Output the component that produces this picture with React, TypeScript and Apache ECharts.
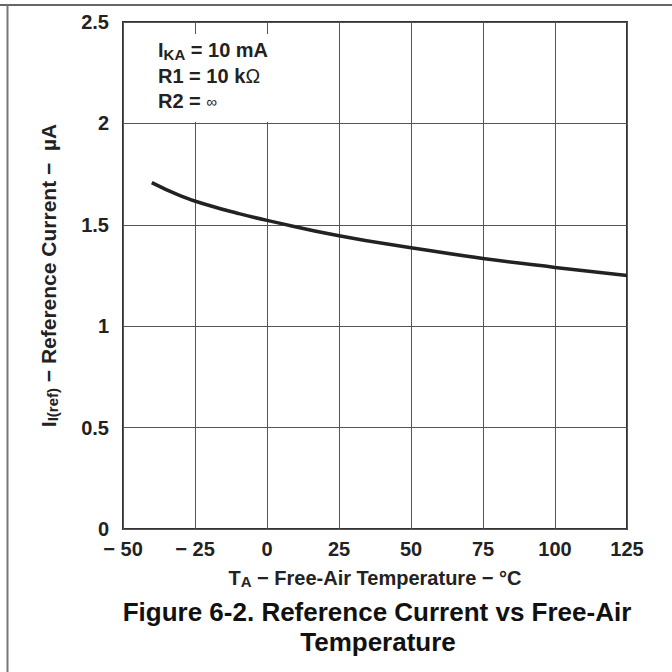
import React, { useEffect, useRef } from "react";
import * as echarts from "echarts";

const temperatures = [-40, -30, -20, -10, 0, 25, 50, 75, 100, 125];
const refCurrent = [1.708, 1.643, 1.595, 1.556, 1.522, 1.446, 1.387, 1.334, 1.29, 1.25];
const xTicks = [-50, -25, 0, 25, 50, 75, 100, 125];
const yTicks = [0, 0.5, 1, 1.5, 2, 2.5];
const annotations = ["I{sub|KA} = 10 mA", "R1 = 10 k{om|\u2126}", "R2 = {inf|\u221e}"];

const FONT = "'Liberation Sans', Arial, sans-serif";

export default function App() {
  const ref = useRef<HTMLDivElement>(null);
  useEffect(() => {
    if (!ref.current) return;
    const chart = echarts.init(ref.current, undefined, { renderer: "svg" });
    const L = 123, R = 627, T = 22, B = 529;
    const fmtX = (v: number) => (v < 0 ? "\u2212 " + Math.abs(v) : String(v));
    const subStyle = { fontSize: 15, fontWeight: "bold", fontFamily: FONT, color: "#222", verticalAlign: "bottom", lineHeight: 12 };
    chart.setOption({
      animation: false,
      backgroundColor: "#fff",
      textStyle: { fontFamily: FONT },
      grid: {
        left: L, right: 672 - R, top: T, bottom: 672 - B,
        show: true, borderColor: "#333", borderWidth: 2, backgroundColor: "transparent",
      },
      xAxis: {
        type: "value", min: xTicks[0], max: xTicks[xTicks.length - 1], interval: 25,
        axisLine: { show: false }, axisTick: { show: false },
        splitLine: { show: true, lineStyle: { color: "#555", width: 1 } },
        axisLabel: { formatter: fmtX, color: "#222", fontWeight: "bold", fontSize: 20, fontFamily: FONT, margin: 10 },
        name: "T{sub|A} \u2212 Free-Air Temperature \u2212 \u00b0C",
        nameLocation: "middle", nameGap: 38,
        nameTextStyle: {
          color: "#222", fontWeight: "bold", fontSize: 20, fontFamily: FONT, lineHeight: 22,
          rich: { sub: subStyle },
        },
      },
      yAxis: {
        type: "value", min: yTicks[0], max: yTicks[yTicks.length - 1], interval: 0.5,
        axisLine: { show: false }, axisTick: { show: false },
        splitLine: { show: true, lineStyle: { color: "#555", width: 1 } },
        axisLabel: { color: "#222", fontWeight: "bold", fontSize: 20, fontFamily: FONT, margin: 14 },
        name: "I{sub|I(ref)} \u2212 Reference Current \u2212  \u00b5A",
        nameLocation: "middle", nameRotate: 90, nameGap: 63,
        nameTextStyle: {
          color: "#222", fontWeight: "bold", fontSize: 21, fontFamily: FONT, lineHeight: 23,
          rich: { sub: subStyle },
        },
      },
      series: [{
        type: "line", data: temperatures.map((t, i) => [t, refCurrent[i]]),
        smooth: true, showSymbol: false, lineStyle: { color: "#222", width: 3.5 }, z: 5,
      }],
      graphic: [
        { type: "line", shape: { x1: 0, y1: 5, x2: 672, y2: 5 }, style: { stroke: "#666", lineWidth: 2 }, z: 10 },
        { type: "line", shape: { x1: 7.5, y1: 5, x2: 7.5, y2: 672 }, style: { stroke: "#777", lineWidth: 2 }, z: 10 },
        { type: "rect", shape: { x: 125, y: 34, width: 195, height: 88 }, style: { fill: "#fff" }, z: 20 },
        ...annotations.map((a, i) => ({
          type: "text", x: 158, y: 50 + i * 25.5, z: 21,
          style: {
            text: a, fill: "#222", font: `bold 20px ${FONT}`, verticalAlign: "middle",
            rich: {
              sub: { fontSize: 15, fontWeight: "bold", fontFamily: FONT, fill: "#222", verticalAlign: "bottom", lineHeight: 12 },
              om: { fontSize: 20, fontWeight: "normal", fontFamily: FONT, fill: "#222" },
              inf: { fontSize: 15, fontFamily: FONT, fill: "#222" },
            },
            lineHeight: 23,
          },
        })),
        { type: "text", x: 377, y: 612, z: 21, style: { text: "Figure 6-2. Reference Current vs Free-Air", fill: "#111", font: `bold 26px ${FONT}`, align: "center", verticalAlign: "middle" } },
        { type: "text", x: 378, y: 642, z: 21, style: { text: "Temperature", fill: "#111", font: `bold 26px ${FONT}`, align: "center", verticalAlign: "middle" } },
      ],
    });
    return () => chart.dispose();
  }, []);
  return <div ref={ref} style={{ position: "fixed", left: 0, top: 0, width: 672, height: 672 }} />;
}
